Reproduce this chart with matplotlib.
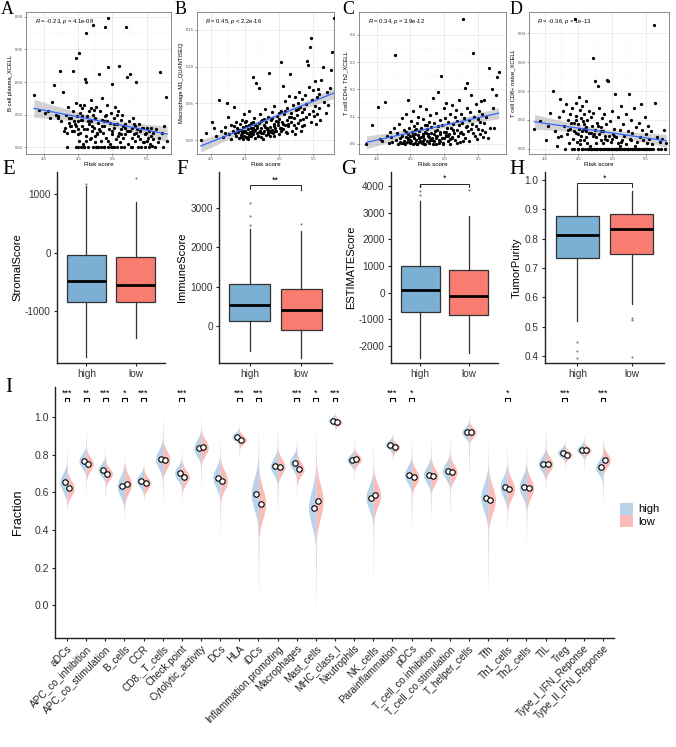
import numpy as np
import matplotlib
matplotlib.use('Agg')
import matplotlib.pyplot as plt
from matplotlib.patches import Patch

# ---------------- data: scatter panels (risk score shared) ----------------
risk_score = [
    3.85, 3.93, 4.02, 4.08, 4.12, 4.15, 4.18, 4.21, 4.23, 4.25,
    4.27, 4.29, 4.30, 4.32, 4.33, 4.35, 4.36, 4.37, 4.38, 4.40,
    4.41, 4.42, 4.43, 4.44, 4.45, 4.46, 4.47, 4.47, 4.48, 4.49,
    4.50, 4.51, 4.51, 4.52, 4.53, 4.54, 4.55, 4.55, 4.56, 4.57,
    4.58, 4.59, 4.60, 4.61, 4.61, 4.62, 4.63, 4.64, 4.65, 4.66,
    4.67, 4.68, 4.69, 4.70, 4.71, 4.72, 4.72, 4.73, 4.74, 4.75,
    4.76, 4.77, 4.78, 4.79, 4.80, 4.81, 4.82, 4.83, 4.84, 4.85,
    4.86, 4.87, 4.88, 4.89, 4.90, 4.91, 4.92, 4.93, 4.94, 4.95,
    4.96, 4.97, 4.98, 4.99, 5.00, 5.01, 5.02, 5.03, 5.04, 5.05,
    5.06, 5.07, 5.08, 5.09, 5.10, 5.11, 5.12, 5.13, 5.14, 5.15,
    5.16, 5.17, 5.18, 5.19, 5.20, 5.21, 5.22, 5.23, 5.24, 5.25,
    5.26, 5.27, 5.28, 5.29, 5.30, 5.31, 5.32, 5.33, 5.34, 5.35,
    5.36, 5.37, 5.38, 5.39, 5.40, 5.41, 5.42, 5.43, 5.44, 5.45,
    5.46, 5.47, 5.48, 5.49, 5.50, 5.51, 5.52, 5.53, 5.54, 5.55,
    5.56, 5.57, 5.58, 5.59, 5.60, 5.62, 5.64, 5.66, 5.68, 5.70,
    5.72, 5.74, 5.76, 5.78, 5.80, 4.05, 4.20, 4.34, 4.46, 4.53,
    4.58, 4.64, 4.69, 4.74, 4.79, 4.84, 4.89, 4.94, 5.00, 5.06,
    4.39, 4.44, 4.49, 4.54, 4.59, 4.63, 4.68, 4.73, 4.78, 4.83,
    4.88, 4.93, 4.98, 5.03, 5.08, 5.13, 5.18, 5.23, 5.28, 5.33,
    4.50, 4.56, 4.62, 4.70, 4.76, 4.82, 4.87, 4.92, 5.02, 5.12,
]

b_cell_plasma = [
    0.032, 0.023, 0.021, 0.018, 0.028, 0.038, 0.020, 0.019, 0.047, 0.016,
    0.034, 0.010, 0.012, 0.020, 0.000, 0.025, 0.018, 0.015, 0.013, 0.018,
    0.010, 0.022, 0.047, 0.016, 0.014, 0.027, 0.055, 0.000, 0.019, 0.011,
    0.016, 0.058, 0.004, 0.021, 0.009, 0.000, 0.024, 0.013, 0.017, 0.002,
    0.026, 0.011, 0.042, 0.070, 0.040, 0.007, 0.019, 0.000, 0.014, 0.022,
    0.005, 0.029, 0.016, 0.010, 0.000, 0.075, 0.020, 0.012, 0.003, 0.018,
    0.025, 0.008, 0.000, 0.015, 0.011, 0.045, 0.022, 0.004, 0.017, 0.030,
    0.009, 0.000, 0.013, 0.074, 0.020, 0.006, 0.026, 0.049, 0.079, 0.011,
    0.015, 0.002, 0.021, 0.008, 0.039, 0.000, 0.018, 0.012, 0.025, 0.005,
    0.014, 0.000, 0.022, 0.009, 0.050, 0.003, 0.017, 0.011, 0.020, 0.006,
    0.013, 0.000, 0.014, 0.008, 0.074, 0.043, 0.010, 0.002, 0.016, 0.045,
    0.010, 0.000, 0.012, 0.006, 0.018, 0.008, 0.014, 0.004, 0.040, 0.009,
    0.011, 0.000, 0.007, 0.014, 0.005, 0.010, 0.000, 0.012, 0.003, 0.012,
    0.003, 0.008, 0.000, 0.009, 0.004, 0.012, 0.006, 0.000, 0.010, 0.002,
    0.007, 0.012, 0.001, 0.005, 0.009, 0.000, 0.011, 0.003, 0.006, 0.046,
    0.009, 0.000, 0.013, 0.031, 0.004, 0.022, 0.018, 0.009, 0.013, 0.026,
    0.000, 0.016, 0.024, 0.007, 0.000, 0.013, 0.019, 0.000, 0.010, 0.020,
    0.013, 0.010, 0.008, 0.017, 0.000, 0.011, 0.006, 0.023, 0.009, 0.000,
    0.016, 0.004, 0.000, 0.014, 0.007, 0.000, 0.012, 0.010, 0.000, 0.013,
    0.000, 0.019, 0.004, 0.013, 0.000, 0.010, 0.000, 0.016, 0.000, 0.008,
]

macrophage_m1 = [
    0.000, 0.010, 0.024, 0.006, 0.054, 0.012, 0.004, 0.018, 0.051, 0.031,
    0.008, 0.020, 0.002, 0.013, 0.045, 0.009, 0.025, 0.005, 0.016, 0.011,
    0.003, 0.022, 0.014, 0.007, 0.028, 0.010, 0.001, 0.018, 0.035, 0.006,
    0.012, 0.019, 0.004, 0.026, 0.009, 0.015, 0.040, 0.007, 0.021, 0.011,
    0.005, 0.017, 0.013, 0.086, 0.024, 0.008, 0.030, 0.003, 0.014, 0.078,
    0.019, 0.010, 0.006, 0.071, 0.023, 0.012, 0.036, 0.004, 0.016, 0.027,
    0.009, 0.020, 0.013, 0.042, 0.007, 0.025, 0.015, 0.031, 0.011, 0.092,
    0.018, 0.006, 0.028, 0.014, 0.038, 0.010, 0.022, 0.047, 0.016, 0.026,
    0.012, 0.033, 0.020, 0.008, 0.029, 0.017, 0.040, 0.106, 0.024, 0.074,
    0.015, 0.035, 0.021, 0.053, 0.011, 0.028, 0.044, 0.019, 0.032, 0.060,
    0.090, 0.025, 0.037, 0.013, 0.048, 0.030, 0.020, 0.058, 0.041, 0.016,
    0.034, 0.051, 0.023, 0.066, 0.027, 0.045, 0.012, 0.038, 0.056, 0.029,
    0.043, 0.020, 0.062, 0.031, 0.049, 0.108, 0.102, 0.036, 0.072, 0.127,
    0.025, 0.139, 0.054, 0.040, 0.068, 0.033, 0.047, 0.080, 0.022, 0.058,
    0.035, 0.070, 0.044, 0.063, 0.028, 0.082, 0.100, 0.052, 0.037, 0.066,
    0.048, 0.071, 0.095, 0.120, 0.166, 0.017, 0.009, 0.019, 0.012, 0.003,
    0.010, 0.021, 0.005, 0.026, 0.018, 0.008, 0.030, 0.013, 0.037, 0.022,
    0.014, 0.004, 0.011, 0.001, 0.023, 0.013, 0.017, 0.009, 0.029, 0.014,
    0.011, 0.019, 0.025, 0.016, 0.039, 0.022, 0.031, 0.008, 0.043, 0.019,
    0.024, 0.006, 0.016, 0.011, 0.002, 0.017, 0.013, 0.006, 0.012, 0.009,
]

cd4_th2 = [
    0.000, 0.070, 0.135, 0.010, 0.152, 0.030, 0.002, 0.025, 0.008, 0.060,
    0.327, 0.015, 0.040, 0.000, 0.072, 0.020, 0.005, 0.095, 0.030, 0.012,
    0.050, 0.000, 0.025, 0.110, 0.008, 0.035, 0.161, 0.018, 0.060, 0.003,
    0.028, 0.085, 0.010, 0.045, 0.000, 0.120, 0.022, 0.065, 0.005, 0.038,
    0.015, 0.078, 0.000, 0.032, 0.100, 0.048, 0.007, 0.140, 0.025, 0.058,
    0.002, 0.036, 0.090, 0.018, 0.068, 0.000, 0.044, 0.128, 0.012, 0.055,
    0.030, 0.080, 0.004, 0.105, 0.040, 0.062, 0.020, 0.168, 0.010, 0.075,
    0.048, 0.000, 0.115, 0.030, 0.192, 0.065, 0.016, 0.088, 0.038, 0.251,
    0.022, 0.070, 0.005, 0.130, 0.045, 0.095, 0.028, 0.150, 0.060, 0.012,
    0.082, 0.038, 0.110, 0.000, 0.058, 0.142, 0.025, 0.072, 0.040, 0.098,
    0.015, 0.125, 0.052, 0.085, 0.030, 0.160, 0.068, 0.008, 0.110, 0.045,
    0.075, 0.459, 0.035, 0.095, 0.020, 0.205, 0.062, 0.222, 0.130, 0.048,
    0.088, 0.010, 0.118, 0.055, 0.180, 0.072, 0.335, 0.040, 0.100, 0.030,
    0.065, 0.145, 0.018, 0.092, 0.055, 0.120, 0.035, 0.080, 0.158, 0.050,
    0.108, 0.025, 0.078, 0.160, 0.045, 0.098, 0.020, 0.278, 0.060, 0.200,
    0.130, 0.058, 0.180, 0.245, 0.263, 0.018, 0.045, 0.008, 0.020, 0.032,
    0.055, 0.012, 0.028, 0.070, 0.015, 0.035, 0.052, 0.010, 0.022, 0.030,
    0.005, 0.042, 0.015, 0.030, 0.000, 0.022, 0.010, 0.040, 0.025, 0.000,
    0.020, 0.045, 0.000, 0.032, 0.018, 0.050, 0.005, 0.040, 0.012, 0.065,
    0.008, 0.050, 0.020, 0.000, 0.038, 0.015, 0.028, 0.002, 0.042, 0.020,
]

cd8_naive = [
    0.0070, 0.0097, 0.0030, 0.0125, 0.0200, 0.0060, 0.0010, 0.0110, 0.0173, 0.0045,
    0.0130, 0.0080, 0.0000, 0.0155, 0.0050, 0.0100, 0.0020, 0.0120, 0.0068, 0.0000,
    0.0140, 0.0035, 0.0090, 0.0000, 0.0450, 0.0115, 0.0055, 0.0160, 0.0025, 0.0085,
    0.0000, 0.0180, 0.0070, 0.0135, 0.0015, 0.0105, 0.0000, 0.0148, 0.0060, 0.0095,
    0.0030, 0.0120, 0.0000, 0.0075, 0.0165, 0.0040, 0.0100, 0.0000, 0.0130, 0.0055,
    0.0010, 0.0110, 0.0000, 0.0080, 0.0314, 0.0045, 0.0125, 0.0000, 0.0065, 0.0235,
    0.0020, 0.0090, 0.0000, 0.0216, 0.0050, 0.0140, 0.0000, 0.0075, 0.0030, 0.0105,
    0.0000, 0.0060, 0.0120, 0.0000, 0.0035, 0.0085, 0.0000, 0.0239, 0.0234, 0.0045,
    0.0000, 0.0095, 0.0025, 0.0000, 0.0130, 0.0050, 0.0000, 0.0070, 0.0190, 0.0000,
    0.0040, 0.0000, 0.0110, 0.0020, 0.0000, 0.0065, 0.0000, 0.0150, 0.0030, 0.0000,
    0.0085, 0.0000, 0.0045, 0.0000, 0.0120, 0.0015, 0.0000, 0.0060, 0.0000, 0.0190,
    0.0000, 0.0035, 0.0100, 0.0000, 0.0055, 0.0000, 0.0140, 0.0010, 0.0000, 0.0075,
    0.0000, 0.0025, 0.0000, 0.0090, 0.0000, 0.0040, 0.0155, 0.0000, 0.0065, 0.0000,
    0.0030, 0.0000, 0.0110, 0.0000, 0.0050, 0.0000, 0.0020, 0.0080, 0.0000, 0.0035,
    0.0000, 0.0060, 0.0000, 0.0015, 0.0000, 0.0430, 0.0158, 0.0040, 0.0000, 0.0025,
    0.0000, 0.0035, 0.0065, 0.0000, 0.0020, 0.0080, 0.0040, 0.0065, 0.0100, 0.0030,
    0.0070, 0.0000, 0.0055, 0.0000, 0.0080, 0.0000, 0.0045, 0.0000, 0.0035, 0.0000,
    0.0090, 0.0060, 0.0000, 0.0045, 0.0085, 0.0020, 0.0000, 0.0050, 0.0000, 0.0060,
    0.0000, 0.0030, 0.0000, 0.0045, 0.0000, 0.0025, 0.0000, 0.0000, 0.0030, 0.0000,
    0.0050, 0.0000, 0.0060, 0.0000, 0.0040, 0.0000, 0.0020, 0.0000, 0.0000, 0.0010,
]

scatter_ylabels = ['B cell plasma_XCELL', 'Macrophage M1_QUANTISEQ',
                   'T cell CD4+ Th2_XCELL', 'T cell CD8+ naive_XCELL']
scatter_stats = ['-0.23, $p$ = 4.1e-08', '0.45, $p$ < 2.2e-16',
                 '0.34, $p$ = 3.9e-12', '-0.36, $p$ = 1e-13']
scatter_yticks = [[0, 0.02, 0.04, 0.06, 0.08], [0, 0.05, 0.10, 0.15],
                  [0, 0.1, 0.2, 0.3, 0.4], [0, 0.01, 0.02, 0.03, 0.04]]
scatter_xticks = [4.0, 4.5, 5.0, 5.5]

# ---------------- data: box panels (whislo, q1, median, q3, whishi) ----------------
groups = ['high', 'low']
stromal_high = [-1780, -850, -490, -50, 1130]
stromal_low = [-1460, -850, -550, -70, 860]
stromal_out = [[1170], [1270]]
immune_high = [-640, 120, 540, 1080, 2480]
immune_low = [-810, -90, 400, 940, 2420]
immune_out = [[2570, 2810, 3140], [2600, 3460]]
estimate_high = [-2450, -720, 90, 980, 3430]
estimate_low = [-2280, -850, -130, 840, 2870]
estimate_out = [[3650, 3820, 4010], [3850]]
purity_high = [0.52, 0.733, 0.814, 0.878, 0.972]
purity_low = [0.577, 0.747, 0.833, 0.886, 0.963]
purity_out = [[0.447, 0.418, 0.394], [0.53, 0.522, 0.395]]
box_ylabels = ['StromalScore', 'ImmuneScore', 'ESTIMATEScore', 'TumorPurity']
box_sig = ['', '**', '*', '*']
box_sig_y = [None, 3580, 4080, 0.99]
box_yticks = [[-1000, 0, 1000], [0, 1000, 2000, 3000],
              [-2000, -1000, 0, 1000, 2000, 3000, 4000],
              [0.4, 0.5, 0.6, 0.7, 0.8, 0.9, 1.0]]

# ---------------- data: immune function violins ----------------
functions = ['aDCs', 'APC_co_inhibition', 'APC_co_stimulation', 'B_cells', 'CCR',
             'CD8._T_cells', 'Check.point', 'Cytolytic_activity', 'DCs', 'HLA', 'iDCs',
             'Inflammation.promoting', 'Macrophages', 'Mast_cells', 'MHC_class_I',
             'Neutrophils', 'NK_cells', 'Parainflammation', 'pDCs',
             'T_cell_co.inhibition', 'T_cell_co.stimulation', 'T_helper_cells', 'Tfh',
             'Th1_cells', 'Th2_cells', 'TIL', 'Treg', 'Type_I_IFN_Reponse',
             'Type_II_IFN_Reponse']
median_high = [0.653, 0.768, 0.721, 0.632, 0.663, 0.777, 0.702, 0.836, 0.679, 0.896,
               0.593, 0.739, 0.759, 0.519, 0.982, 0.773, 0.573, 0.853, 0.694, 0.694,
               0.715, 0.919, 0.573, 0.630, 0.631, 0.751, 0.812, 0.827, 0.733]
median_low = [0.623, 0.751, 0.698, 0.644, 0.649, 0.774, 0.682, 0.839, 0.663, 0.880,
              0.540, 0.737, 0.724, 0.553, 0.972, 0.776, 0.584, 0.841, 0.681, 0.686,
              0.706, 0.919, 0.561, 0.619, 0.623, 0.751, 0.800, 0.823, 0.772]
spread_high = [0.045, 0.035, 0.030, 0.050, 0.030, 0.045, 0.035, 0.040, 0.050, 0.020,
               0.080, 0.040, 0.035, 0.090, 0.015, 0.025, 0.060, 0.020, 0.040, 0.040,
               0.040, 0.025, 0.070, 0.050, 0.050, 0.035, 0.020, 0.020, 0.035]
spread_low = [0.040, 0.035, 0.030, 0.045, 0.030, 0.045, 0.035, 0.040, 0.050, 0.020,
              0.080, 0.040, 0.035, 0.090, 0.015, 0.025, 0.060, 0.020, 0.040, 0.040,
              0.040, 0.025, 0.070, 0.050, 0.050, 0.035, 0.020, 0.020, 0.035]
min_high = [0.47, 0.58, 0.56, 0.43, 0.55, 0.52, 0.55, 0.62, 0.42, 0.80,
            0.10, 0.48, 0.58, 0.00, 0.92, 0.65, 0.30, 0.77, 0.40, 0.46,
            0.48, 0.67, 0.10, 0.37, 0.35, 0.60, 0.72, 0.72, 0.50]
min_low = [0.50, 0.60, 0.55, 0.46, 0.55, 0.55, 0.55, 0.62, 0.32, 0.78,
           0.00, 0.48, 0.57, -0.08, 0.92, 0.65, 0.07, 0.77, 0.40, 0.46,
           0.48, 0.67, 0.02, 0.40, 0.30, 0.60, 0.72, 0.72, 0.55]
max_high = [0.88, 0.96, 0.85, 0.82, 0.76, 1.00, 0.84, 1.00, 0.90, 0.96,
            0.95, 0.95, 0.92, 0.95, 1.03, 0.88, 0.87, 0.91, 0.89, 0.90,
            0.90, 1.02, 0.88, 0.86, 0.86, 0.95, 0.88, 0.91, 0.91]
max_low = [0.82, 0.92, 0.84, 0.80, 0.76, 1.00, 0.82, 1.00, 0.90, 0.96,
           0.95, 0.95, 0.90, 0.95, 1.03, 0.88, 0.87, 0.91, 0.89, 0.90,
           0.90, 1.02, 0.88, 0.86, 0.86, 0.95, 0.88, 0.91, 0.91]
signif = ['***', '**', '***', '*', '***', '', '***', '', '', '***', '***', '',
          '***', '*', '***', '', '', '***', '*', '', '', '', '', '*', '', '',
          '***', '', '***']

# ---------------- style ----------------
plt.rcParams['font.family'] = ['Liberation Sans', 'DejaVu Sans']
plt.rcParams['mathtext.fontset'] = 'custom'
plt.rcParams['mathtext.it'] = 'Liberation Sans:italic'
plt.rcParams['mathtext.rm'] = 'Liberation Sans'

W, H = 676, 747
fig = plt.figure(figsize=(W / 100, H / 100), dpi=100)


def axes_px(l, t, r, b):
    return fig.add_axes([l / W, 1 - b / H, (r - l) / W, (b - t) / H])


def letter(ch, x, y, size=15):
    fig.text(x / W, 1 - y / H, ch, family=['Liberation Serif', 'DejaVu Serif'],
             fontsize=size, ha='center', va='center')


C_HIGH_BOX, C_LOW_BOX = '#7BAFD4', '#F97D70'
C_HIGH_V, C_LOW_V = '#B9D4EA', '#F9BCB8'

# ---------------- scatter panels A-D ----------------
xs = np.array(risk_score)
ys_all = [b_cell_plasma, macrophage_m1, cd4_th2, cd8_naive]
for ys_ in ys_all:
    assert len(ys_) == len(xs)
boxes = [(26, 12, 171, 154), (197, 12, 334, 154), (359, 12, 506, 154), (529, 12, 669, 154)]
xlims = [(3.735, 5.857), (3.794, 5.804), (3.74, 5.91), (3.77, 5.84)]
ylims = [(-0.0041, 0.0829), (-0.019, 0.1745), (-0.037, 0.484), (-0.0018, 0.0474)]
yfmts = ['%.2f', '%.2f', '%.1f', '%.2f']
for k in range(4):
    ax = axes_px(*boxes[k])
    y = np.array(ys_all[k])
    ax.set_axisbelow(True)
    ax.set_xlim(*xlims[k])
    ax.set_ylim(*ylims[k])
    ax.set_xticks(scatter_xticks)
    ax.set_xticklabels(['%.1f' % v for v in scatter_xticks])
    yt = scatter_yticks[k]
    ax.set_yticks(yt)
    ax.set_yticklabels([yfmts[k] % v for v in yt])
    mx = [(a + b) / 2 for a, b in zip(scatter_xticks[:-1], scatter_xticks[1:])]
    my = [(a + b) / 2 for a, b in zip(yt[:-1], yt[1:])]
    ax.set_xticks(mx, minor=True)
    ax.set_yticks(my, minor=True)
    ax.grid(True, which='major', color='#E6E6E6', lw=0.5)
    ax.grid(True, which='minor', color='#F1F1F1', lw=0.3)
    ax.tick_params(which='major', length=1.5, width=0.4, color='#444444',
                   labelsize=3.1, labelcolor='#555555', pad=0.8)
    ax.tick_params(which='minor', length=0)
    for s in ax.spines.values():
        s.set_color('#777777')
        s.set_linewidth(0.6)
    # linear fit with 95% band
    slope, icpt = np.polyfit(xs, y, 1)
    gx = np.linspace(xs.min(), xs.max(), 100)
    resid = y - (slope * xs + icpt)
    n = len(xs)
    s_err = np.sqrt(np.sum(resid ** 2) / (n - 2))
    sxx = np.sum((xs - xs.mean()) ** 2)
    se = s_err * np.sqrt(1 / n + (gx - xs.mean()) ** 2 / sxx)
    fit = slope * gx + icpt
    ax.fill_between(gx, fit - 1.97 * se, fit + 1.97 * se, color='#A8A8A8', alpha=0.5, lw=0, zorder=2)
    ax.scatter(xs, y, s=5.5, color='black', lw=0, zorder=3)
    ax.plot(gx, fit, color='#3366FF', lw=0.9, zorder=4)
    ax.text(0.06, 0.93, '$R$ = ' + scatter_stats[k], transform=ax.transAxes,
            fontsize=4.2, ha='left', va='center', color='black')
    ax.set_xlabel('Risk score', fontsize=4.6, labelpad=0.8)
    ax.set_ylabel(scatter_ylabels[k], fontsize=4.2, labelpad=1.5)

for ch, x in zip('ABCD', [7.5, 181, 348, 516]):
    letter(ch, x, 9.5, size=13)

# ---------------- box panels E-H ----------------
box_axes = [(57, 172, 165, 363), (219, 172, 332, 363), (391, 172, 498, 363), (545, 172, 664, 363)]
box_ylims = [(-1885, 1375), (-940, 3920), (-2640, 4520), (0.376, 1.028)]
box_data = [(stromal_high, stromal_low, stromal_out), (immune_high, immune_low, immune_out),
            (estimate_high, estimate_low, estimate_out), (purity_high, purity_low, purity_out)]
for k in range(4):
    ax = axes_px(*box_axes[k])
    hi, lo, outs = box_data[k]
    stats = []
    for g, v, o in zip(groups, (hi, lo), outs):
        stats.append(dict(label=g, whislo=v[0], q1=v[1], med=v[2], q3=v[3], whishi=v[4], fliers=o))
    bp = ax.bxp(stats, positions=[1, 2], widths=0.8, patch_artist=True, showfliers=True,
                boxprops=dict(lw=0.9, edgecolor='#333333'),
                whiskerprops=dict(lw=0.9, color='#333333'),
                capprops=dict(lw=0),
                medianprops=dict(lw=2.0, color='black'),
                flierprops=dict(marker='o', markersize=1.6, markerfacecolor='#888888',
                                markeredgecolor='none'))
    for patch, c in zip(bp['boxes'], (C_HIGH_BOX, C_LOW_BOX)):
        patch.set_facecolor(c)
    ax.set_xlim(0.4, 2.6)
    ax.set_ylim(*box_ylims[k])
    ax.set_yticks(box_yticks[k])
    if k == 3:
        ax.set_yticklabels(['%.1f' % v for v in box_yticks[k]])
    else:
        ax.set_yticklabels(['%d' % v for v in box_yticks[k]])
    ax.set_xticks([1, 2])
    ax.set_xticklabels(groups)
    for s in ('top', 'right'):
        ax.spines[s].set_visible(False)
    for s in ('left', 'bottom'):
        ax.spines[s].set_linewidth(1.0)
        ax.spines[s].set_color('#222222')
    ax.tick_params(length=2.5, width=0.8, color='#222222', labelsize=7.2,
                   labelcolor='#333333', pad=2)
    ax.set_ylabel(box_ylabels[k], fontsize=8, labelpad=2)
    if box_sig[k]:
        yb = box_sig_y[k]
        rng = box_ylims[k][1] - box_ylims[k][0]
        tip = rng * 0.018
        ax.plot([1, 1, 2, 2], [yb - tip, yb, yb, yb - tip], color='black', lw=0.6, clip_on=False)
        ax.text(1.5, yb + rng * 0.004, box_sig[k], ha='center', va='bottom', fontsize=6.5)

for ch, x in zip('EFGH', [9, 182, 349, 517]):
    letter(ch, x, 170)

# ---------------- violin panel I ----------------
ax = axes_px(55, 387, 614, 638)
n_f = len(functions)
HW = 0.38
for i in range(n_f):
    for side, m, sd, lo, up, col in (
            (-1, median_high[i], spread_high[i], min_high[i], max_high[i], C_HIGH_V),
            (1, median_low[i], spread_low[i], min_low[i], max_low[i], C_LOW_V)):
        g = np.linspace(lo, up, 400)
        core = np.exp(-0.5 * ((g - m) / sd) ** 2)
        tail = np.where(g < m, (g - lo) / max(m - lo, 1e-6), (up - g) / max(up - m, 1e-6)) * 0.1
        d = np.maximum(core, np.clip(tail, 0, None))
        ax.fill_betweenx(g, i, i + side * d * HW, color=col, lw=0, zorder=2)
    ax.plot([i - 0.11], [median_high[i]], 'o', ms=3.9, mfc='white', mec='black', mew=0.8, zorder=4)
    ax.plot([i + 0.11], [median_low[i]], 'o', ms=3.9, mfc='white', mec='black', mew=0.8, zorder=4)
    if signif[i]:
        ax.plot([i - 0.13, i - 0.13, i + 0.13, i + 0.13], [1.087, 1.101, 1.101, 1.087],
                color='black', lw=0.8, zorder=5, clip_on=False)
        ax.text(i, 1.104, signif[i], ha='center', va='bottom', fontsize=6.5, zorder=5)

ax.set_xlim(-0.627, n_f - 1 + 0.575)
ax.set_ylim(-0.173, 1.16)
ax.set_yticks([0.0, 0.2, 0.4, 0.6, 0.8, 1.0])
ax.set_yticklabels(['0.0', '0.2', '0.4', '0.6', '0.8', '1.0'])
ax.set_xticks(range(n_f))
ax.set_xticklabels(functions, rotation=45, ha='right', rotation_mode='anchor')
for s in ('top', 'right'):
    ax.spines[s].set_visible(False)
for s in ('left', 'bottom'):
    ax.spines[s].set_linewidth(1.0)
    ax.spines[s].set_color('#222222')
ax.tick_params(axis='y', length=2.5, width=0.8, color='#222222', labelsize=7.5,
               labelcolor='#333333', pad=2)
ax.tick_params(axis='x', length=2.5, width=0.8, color='#222222', labelsize=7.2,
               labelcolor='#222222', pad=1.5)
fig.text(18 / W, 1 - 512 / H, 'Fraction', rotation=90, fontsize=9, ha='center', va='center')

handles = [Patch(facecolor=C_HIGH_V, edgecolor='none', label='high'),
           Patch(facecolor=C_LOW_V, edgecolor='none', label='low')]
fig.legend(handles=handles, loc='center left', bbox_to_anchor=(616 / W, 1 - 515 / H),
           frameon=False, fontsize=8, handlelength=1.1, handleheight=1.3,
           handletextpad=0.5, labelspacing=0.05, borderaxespad=0)

letter('I', 9, 388)

fig.savefig('out.png', dpi=100)
